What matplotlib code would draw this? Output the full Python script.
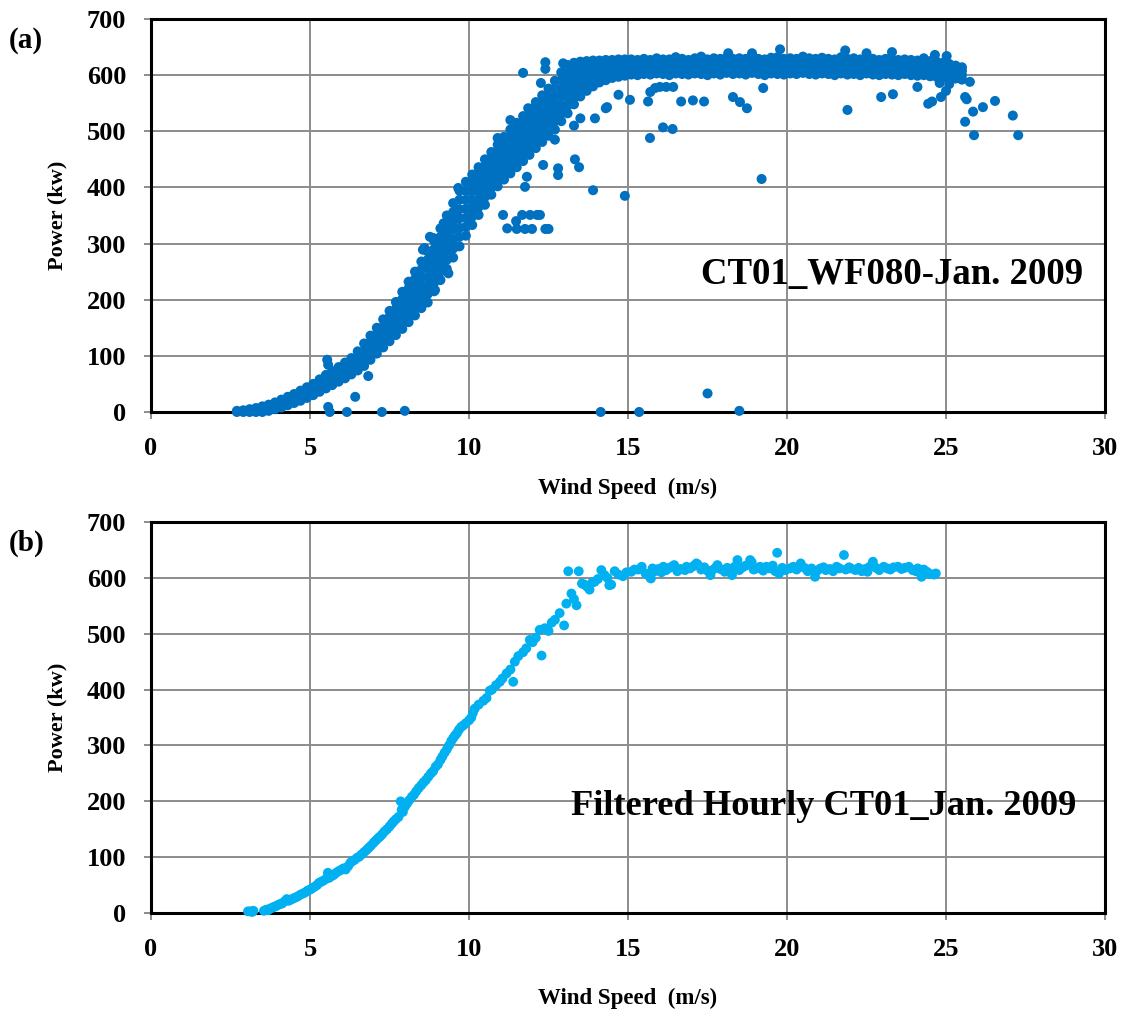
import matplotlib
matplotlib.use("Agg")
import matplotlib.pyplot as plt

plt.rcParams["font.family"] = ["Liberation Serif", "DejaVu Serif"]
plt.rcParams["font.weight"] = "bold"

# ---------------- Panel (a): 10-minute SCADA records, CT01 WF080 ----------------
# Main power-curve band: wind speed column -> power readings (kW)
band_ramp_a = [
    (2.7, (0, 2)), (2.9, (0, 3)), (3.1, (0, 5)), (3.3, (0, 4, 7)), (3.5, (0, 5, 10)),
    (3.7, (2, 8, 13)), (3.9, (5, 11, 17)), (4.1, (8, 15, 22)), (4.3, (12, 19, 27)),
    (4.5, (16, 24, 32)), (4.7, (20, 29, 38)), (4.9, (25, 34, 44)), (5.1, (30, 40, 50)),
    (5.3, (36, 47, 58)), (5.5, (42, 54, 66)), (5.7, (48, 60, 73)), (5.9, (54, 67, 80)),
    (6.1, (60, 74, 88)), (6.3, (67, 81, 96)), (6.5, (74, 86, 97, 108)),
    (6.7, (82, 95, 108, 122)), (6.9, (93, 104, 115, 125, 136)),
    (7.1, (104, 116, 127, 139, 150)), (7.3, (115, 127, 140, 152, 165)),
    (7.5, (126, 137, 148, 158, 169, 180)), (7.7, (137, 149, 161, 172, 184, 196)),
    (7.9, (148, 161, 174, 188, 201, 214)), (8.1, (160, 172, 184, 196, 208, 220, 232)),
    (8.3, (172, 185, 198, 211, 224, 237, 250)), (8.5, (185, 199, 213, 226, 240, 254, 268)),
    (8.7, (195, 210, 225, 240, 256, 271, 286)), (8.9, (215, 230, 245, 260, 275, 290, 305)),
    (9.1, (235, 250, 266, 281, 296, 312, 327)), (9.3, (255, 271, 287, 302, 318, 334, 350)),
    (9.5, (275, 291, 307, 324, 340, 356, 372)), (9.7, (295, 312, 328, 345, 361, 378, 394)),
    (9.9, (314, 330, 346, 362, 378, 394, 410)), (10.1, (333, 348, 363, 378, 393, 408, 423)),
    (10.3, (351, 365, 379, 394, 408, 422, 436)), (10.5, (369, 383, 396, 410, 423, 437, 450)),
    (10.7, (387, 400, 412, 425, 438, 450, 463)), (10.9, (402, 414, 427, 439, 451, 464, 476)),
    (11.1, (414, 427, 439, 452, 465, 477, 490)), (11.3, (425, 438, 451, 464, 477, 490, 503)),
    (11.5, (436, 449, 462, 476, 489, 502, 515)), (11.7, (447, 460, 474, 487, 500, 514, 527)),
    (11.9, (458, 472, 485, 499, 513, 526, 540)), (12.1, (470, 484, 497, 511, 525, 538, 552)),
    (12.3, (481, 495, 509, 523, 536, 550, 564)), (12.5, (492, 506, 520, 534, 548, 562, 576)),
    (12.7, (503, 518, 532, 547, 561, 576, 590)), (12.9, (518, 533, 547, 562, 576, 591, 605)),
    (13.1, (532, 546, 561, 575, 589, 604, 618)), (13.3, (548, 560, 573, 585, 597, 610, 622)),
    (13.5, (562, 575, 587, 599, 612, 624)), (13.7, (572, 585, 598, 612, 625)),
    (13.9, (580, 592, 603, 614, 626)), (14.1, (587, 600, 613, 626)),
    (14.3, (591, 603, 615, 627)), (14.5, (595, 606, 617, 627)),
    (14.7, (597, 608, 618, 628)), (14.9, (599, 610, 620, 628)),
]

band_plateau_a = [
    (15.1, (601, 611, 620, 628)), (15.3, (600, 610, 619, 627)), (15.5, (602, 612, 621, 629)),
    (15.7, (601, 611, 620, 627)), (15.9, (603, 612, 621, 630)), (16.1, (602, 611, 620, 628)),
    (16.3, (600, 610, 619, 628)), (16.5, (603, 613, 622, 632)), (16.7, (602, 611, 620, 629)),
    (16.9, (601, 610, 619, 627)), (17.1, (603, 612, 621, 630)), (17.3, (602, 612, 621, 633)),
    (17.5, (600, 610, 620, 628)), (17.7, (603, 613, 622, 630)), (17.9, (601, 611, 620, 629)),
    (18.1, (604, 613, 622, 631)), (18.3, (602, 612, 621, 629)), (18.5, (603, 612, 621, 630)),
    (18.7, (601, 611, 620, 629)), (18.9, (604, 613, 622, 631)), (19.1, (602, 612, 621, 629)),
    (19.3, (600, 610, 620, 628)), (19.5, (603, 613, 622, 631)), (19.7, (602, 612, 621, 632)),
    (19.9, (601, 611, 620, 629)), (20.1, (603, 612, 622, 630)), (20.3, (602, 611, 621, 629)),
    (20.5, (604, 613, 622, 633)), (20.7, (602, 612, 621, 630)), (20.9, (601, 611, 620, 629)),
    (21.1, (603, 613, 622, 631)), (21.3, (602, 612, 621, 629)), (21.5, (600, 610, 620, 628)),
    (21.7, (603, 612, 621, 632)), (21.9, (601, 611, 620, 629)), (22.1, (602, 612, 621, 630)),
    (22.3, (600, 610, 619, 628)), (22.5, (603, 612, 621, 630)), (22.7, (601, 611, 620, 629)),
    (22.9, (600, 610, 619, 627)), (23.1, (602, 611, 620, 629)), (23.3, (601, 610, 619, 628)),
    (23.5, (600, 609, 618, 627)), (23.7, (602, 611, 620, 628)), (23.9, (600, 609, 618, 627)),
    (24.1, (599, 608, 617, 626)), (24.3, (600, 609, 618, 630)), (24.5, (598, 607, 616, 625)),
    (24.7, (597, 606, 615, 624)), (24.9, (596, 605, 614, 622)), (25.1, (595, 604, 612, 620)),
    (25.3, (594, 602, 610, 617)), (25.5, (592, 600, 608, 614)),
]

# Scattered records away from the main band (curtailment, icing, stops)
outlier_ws_a = [
    5.54, 5.57, 5.57, 5.62, 6.16, 6.42, 6.83, 7.26, 7.98, 14.14, 15.35, 17.5, 18.5,
    8.55, 8.77, 8.87, 8.6, 9.2, 9.35, 8.93, 8.87,
    9.66, 10.28, 10.4, 10.9, 11.3, 11.86, 11.7, 12.26, 11.7, 12.4, 12.4, 12.96,
    11.76, 11.82, 11.07, 11.2, 11.48, 11.67, 11.92, 12.14, 12.23, 11.5, 11.76, 11.98, 12.4, 12.5,
    12.33, 12.8, 12.8, 13.33, 13.46, 13.9, 14.9, 12.7, 13.3, 13.5, 13.96, 14.3, 15.06, 15.63, 15.69,
    15.7, 15.85, 16.0, 16.2, 16.42, 16.1, 16.4, 16.67, 17.04, 17.39, 18.3, 18.52, 18.74,
    19.2, 19.25, 21.9, 22.96, 23.33, 24.1, 24.44, 24.56, 24.84, 25.0, 25.1, 24.8, 25.75,
    25.6, 25.65, 25.85, 26.16, 26.54, 25.6, 25.88, 27.1, 27.27,
    24.65, 25.02, 19.78, 23.3, 21.83, 18.15, 18.9, 22.5, 14.34, 14.7,
]
outlier_kw_a = [
    93, 84, 9, 0, 0, 27, 64, 0, 2, 0, 0, 33, 2,
    289, 312, 310, 292, 336, 247, 217, 221,
    399, 426, 422, 488, 520, 541, 517, 586, 604, 623, 611, 621,
    401, 419, 351, 327, 340, 351, 351, 351, 351, 326, 326, 326, 326, 326,
    440, 434, 422, 450, 436, 395, 385, 485, 510, 523, 523, 541, 556, 553, 488,
    570, 577, 579, 579, 579, 507, 504, 553, 555, 553, 561, 552, 541,
    415, 577, 538, 561, 566, 579, 549, 553, 561, 572, 584, 586, 588,
    561, 557, 535, 543, 554, 517, 493, 528, 493,
    636, 634, 646, 641, 644, 639, 639, 639, 543, 565,
]

# ---------------- Panel (b): filtered hourly records, CT01 ----------------
filtered_ramp_b = [
    (3.05, 3), (3.12, 3), (3.18, 2), (3.22, 4),
    (3.55, 4), (3.62, 6), (3.68, 5), (3.74, 8), (3.8, 9), (3.86, 11), (3.92, 12), (3.98, 14),
    (4.05, 16), (4.12, 17), (4.2, 21), (4.27, 25), (4.33, 22), (4.4, 24), (4.47, 26), (4.55, 28),
    (4.62, 30), (4.7, 33), (4.78, 35), (4.85, 37), (4.92, 40), (5.0, 42), (5.06, 44), (5.14, 47),
    (5.22, 50), (5.28, 54), (5.35, 56), (5.42, 58), (5.5, 61), (5.56, 72), (5.6, 63), (5.67, 66),
    (5.74, 68), (5.82, 72), (5.9, 75), (5.97, 77), (6.05, 80), (6.12, 78), (6.2, 84), (6.27, 90),
    (6.33, 93), (6.4, 95), (6.48, 99), (6.55, 101), (6.62, 105), (6.7, 109), (6.78, 113),
    (6.85, 117), (6.92, 121), (7.0, 126), (7.07, 130), (7.14, 134), (7.2, 137), (7.27, 141),
    (7.34, 146), (7.42, 150), (7.5, 155), (7.57, 160), (7.63, 164), (7.7, 168), (7.78, 172),
    (7.85, 200), (7.88, 185), (7.92, 181), (7.98, 190), (8.05, 196), (8.12, 202), (8.2, 208),
    (8.27, 212), (8.34, 218), (8.42, 224), (8.5, 229), (8.57, 234), (8.64, 238), (8.72, 244),
    (8.8, 250), (8.87, 254), (8.95, 262), (9.02, 266), (9.1, 274), (9.16, 280), (9.23, 287),
    (9.3, 293), (9.37, 300), (9.44, 308), (9.5, 313), (9.56, 318), (9.62, 322), (9.68, 328),
    (9.75, 333), (9.82, 336), (9.9, 340), (10.0, 345), (10.07, 350), (10.12, 358), (10.18, 366),
    (10.3, 373), (10.45, 380), (10.55, 385), (10.65, 398), (10.72, 400), (10.85, 408),
    (10.97, 414), (11.05, 420), (11.18, 429), (11.3, 436), (11.39, 414), (11.44, 450),
    (11.55, 460), (11.7, 467), (11.8, 474), (11.91, 489), (12.0, 485), (12.1, 493),
    (12.22, 507), (12.28, 461), (12.38, 510), (12.5, 505), (12.6, 520), (12.7, 525),
    (12.85, 537), (12.99, 515), (13.06, 554), (13.12, 612), (13.22, 572), (13.3, 562),
    (13.38, 551), (13.45, 612), (13.55, 590), (13.63, 588), (13.72, 584), (13.79, 579),
    (13.88, 592), (13.95, 593), (14.05, 598), (14.16, 614), (14.26, 605), (14.35, 600),
    (14.41, 587), (14.47, 588), (14.58, 612), (14.7, 606), (14.84, 603), (14.95, 610),
]

filtered_plateau_b = [
    (15.1, 611), (15.2, 615), (15.32, 615), (15.43, 620), (15.55, 608), (15.69, 601),
    (15.72, 599), (15.77, 617), (15.85, 612), (15.95, 616), (16.05, 610), (16.11, 620),
    (16.2, 614), (16.3, 618), (16.37, 620), (16.45, 623), (16.55, 612), (16.65, 616),
    (16.79, 614), (16.84, 620), (16.95, 617), (17.05, 621), (17.15, 626), (17.19, 624),
    (17.3, 615), (17.4, 619), (17.5, 613), (17.59, 605), (17.65, 614), (17.75, 618),
    (17.81, 623), (17.9, 616), (18.04, 611), (18.12, 618), (18.2, 615), (18.27, 605),
    (18.35, 620), (18.44, 632), (18.5, 614), (18.6, 619), (18.7, 622), (18.84, 632),
    (18.89, 628), (18.95, 615), (19.06, 617), (19.15, 620), (19.25, 613), (19.35, 620),
    (19.45, 617), (19.55, 622), (19.63, 612), (19.69, 645), (19.75, 608), (19.85, 618),
    (19.95, 614), (20.09, 617), (20.2, 620), (20.3, 615), (20.43, 626), (20.55, 618),
    (20.65, 612), (20.77, 617), (20.88, 602), (20.95, 613), (21.05, 617), (21.15, 619),
    (21.22, 614), (21.35, 616), (21.45, 612), (21.56, 620), (21.65, 617), (21.79, 641),
    (21.85, 615), (21.95, 619), (22.01, 617), (22.15, 614), (22.25, 618), (22.35, 612),
    (22.45, 616), (22.53, 611), (22.6, 620), (22.7, 629), (22.8, 618), (22.9, 614),
    (23.04, 620), (23.15, 617), (23.25, 615), (23.35, 619), (23.49, 620), (23.6, 616),
    (23.7, 618), (23.83, 620), (23.95, 614), (24.05, 612), (24.11, 617), (24.23, 602),
    (24.3, 615), (24.4, 611), (24.5, 607), (24.62, 606), (24.68, 608),
]

x_ticks = [0, 5, 10, 15, 20, 25, 30]
y_ticks = [0, 100, 200, 300, 400, 500, 600, 700]

COLOR_A = "#0070C0"
COLOR_B = "#00B0F0"


def expand(columns):
    xs, ys = [], []
    for ws, kws in columns:
        for kw in kws:
            xs.append(ws)
            ys.append(kw)
    return xs, ys


def style_axes(ax, xlabelpad):
    ax.set_xlim(0, 30)
    ax.set_ylim(0, 700)
    ax.set_xticks(x_ticks)
    ax.set_yticks(y_ticks)
    ax.grid(True, color="#8c8c8c", linewidth=1.4)
    ax.set_axisbelow(True)
    for side in ("left", "right", "top", "bottom"):
        ax.spines[side].set_linewidth(2.2)
        ax.spines[side].set_color("black")
        ax.spines[side].set_zorder(2.5)
    ax.tick_params(axis="both", direction="out", length=5, width=1.4,
                   color="#8c8c8c", labelsize=19, pad=13)
    for lab in ax.get_xticklabels() + ax.get_yticklabels():
        lab.set_fontweight("bold")
    ax.set_xlabel("Wind Speed  (m/s)", fontsize=16.5, fontweight="bold",
                  labelpad=xlabelpad)
    ax.set_ylabel("Power (kw)", fontsize=16, fontweight="bold", labelpad=14)


fig = plt.figure(figsize=(11.23, 10.10), dpi=100)
ax_a = fig.add_axes([0.1345, 0.5921, 0.8495, 0.3891])
ax_b = fig.add_axes([0.1345, 0.0960, 0.8495, 0.3871])

# Panel (a)
xa1, ya1 = expand(band_ramp_a)
xa2, ya2 = expand(band_plateau_a)
ax_a.scatter(xa1 + xa2 + outlier_ws_a, ya1 + ya2 + outlier_kw_a,
             s=52, color=COLOR_A, edgecolors="none", zorder=3, clip_on=False)
style_axes(ax_a, 13)
ax_a.text(0.977, 0.35, "CT01_WF080-Jan. 2009", transform=ax_a.transAxes,
          ha="right", va="center", fontsize=26.5, fontweight="bold")

# Panel (b)
xb = [p[0] for p in filtered_ramp_b + filtered_plateau_b]
yb = [p[1] for p in filtered_ramp_b + filtered_plateau_b]
ax_b.scatter(xb, yb, s=50, color=COLOR_B, edgecolors="none", zorder=3, clip_on=False)
style_axes(ax_b, 19)
ax_b.text(0.97, 0.272, "Filtered Hourly CT01_Jan. 2009", transform=ax_b.transAxes,
          ha="right", va="center", fontsize=26.2, fontweight="bold")

fig.text(0.008, 0.960, "(a)", fontsize=21, fontweight="bold", va="center")
fig.text(0.008, 0.462, "(b)", fontsize=21, fontweight="bold", va="center")

fig.savefig("out.png", dpi=100)
